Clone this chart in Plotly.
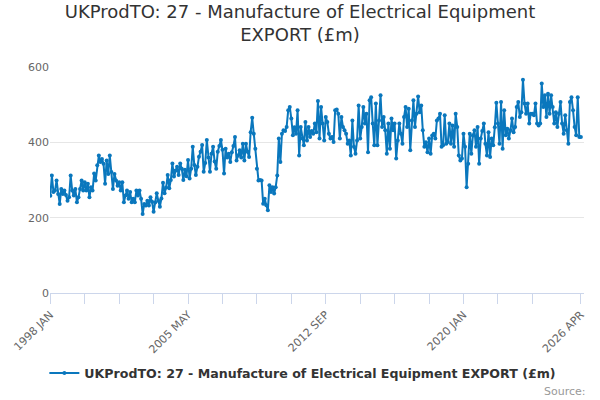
import plotly.graph_objects as go

# monthly export values (£m), 1998 JAN .. 2026 APR
y1998 = [258, 312, 268, 272, 299, 263, 236, 276, 263, 272, 260, 245]
y1999 = [254, 312, 272, 259, 276, 241, 254, 276, 299, 272, 294, 272]
y2000 = [290, 254, 281, 272, 317, 299, 339, 365, 348, 356, 343, 290]
y2001 = [352, 316, 365, 321, 276, 316, 299, 285, 294, 272, 294, 241]
y2002 = [259, 272, 250, 268, 241, 250, 241, 272, 259, 272, 250, 210]
y2003 = [236, 232, 245, 232, 254, 242, 216, 240, 265, 245, 229, 251]
y2004 = [293, 265, 280, 313, 278, 300, 344, 309, 325, 335, 313, 344]
y2005 = [330, 300, 327, 310, 353, 304, 330, 388, 340, 313, 335, 362]
y2006 = [375, 393, 322, 345, 406, 360, 322, 370, 388, 349, 330, 375]
y2007 = [390, 406, 380, 317, 383, 360, 370, 348, 374, 390, 414, 352]
y2008 = [365, 379, 360, 396, 352, 396, 375, 361, 427, 465, 423, 383]
y2009 = [330, 299, 300, 299, 237, 250, 233, 220, 286, 268, 281, 264]
y2010 = [281, 312, 410, 348, 423, 432, 430, 441, 485, 494, 463, 419]
y2011 = [440, 423, 485, 365, 441, 410, 392, 454, 405, 441, 414, 430]
y2012 = [423, 450, 427, 510, 410, 494, 450, 405, 467, 454, 423, 410]
y2013 = [414, 401, 485, 487, 476, 410, 467, 441, 432, 423, 396, 405]
y2014 = [365, 458, 388, 370, 405, 498, 410, 441, 494, 450, 476, 374]
y2015 = [512, 520, 450, 392, 503, 392, 458, 525, 441, 467, 432, 370]
y2016 = [450, 383, 463, 432, 450, 357, 405, 450, 423, 396, 467, 494]
y2017 = [441, 489, 379, 458, 512, 441, 476, 522, 480, 498, 432, 388]
y2018 = [400, 374, 410, 370, 418, 423, 410, 458, 463, 476, 388, 392]
y2019 = [472, 396, 401, 450, 396, 445, 388, 476, 441, 365, 352, 357]
y2020 = [423, 388, 281, 343, 423, 370, 418, 432, 388, 441, 343, 410]
y2021 = [430, 450, 396, 365, 427, 361, 410, 392, 440, 505, 450, 396]
y2022 = [507, 383, 485, 419, 436, 410, 432, 463, 427, 441, 494, 507]
y2023 = [467, 480, 566, 503, 476, 503, 450, 476, 476, 472, 503, 450]
y2024 = [445, 450, 556, 494, 525, 467, 529, 476, 525, 494, 450, 480]
y2025 = [441, 476, 507, 450, 423, 472, 432, 396, 507, 520, 485, 441]
y2026 = [419, 520, 414, 414]

years = list(range(1998, 2027))
month_names = ["JAN", "FEB", "MAR", "APR", "MAY", "JUN",
               "JUL", "AUG", "SEP", "OCT", "NOV", "DEC"]
tick_labels = ["1998 JAN", "2005 MAY", "2012 SEP", "2020 JAN", "2026 APR"]

values = (y1998 + y1999 + y2000 + y2001 + y2002 + y2003 + y2004 + y2005
          + y2006 + y2007 + y2008 + y2009 + y2010 + y2011 + y2012 + y2013
          + y2014 + y2015 + y2016 + y2017 + y2018 + y2019 + y2020 + y2021
          + y2022 + y2023 + y2024 + y2025 + y2026)
periods = [f"{y} {m}" for y in years for m in month_names][:len(values)]

# tick marks every 22 months, labels only on some of them
tickvals = periods[0:len(periods) - 22:22] + [periods[-1]]
ticktext = [p if p in tick_labels else "" for p in tickvals]

blue = "#0a77bd"
fig = go.Figure()
fig.add_trace(go.Scatter(
    x=periods, y=values, mode="lines+markers",
    name="UKProdTO: 27 - Manufacture of Electrical Equipment EXPORT (£m)",
    line=dict(color=blue, width=2),
    marker=dict(color=blue, size=4),
))

fig.update_layout(
    width=600, height=400, autosize=False,
    margin=dict(l=46, r=16, t=67, b=107),
    paper_bgcolor="white", plot_bgcolor="white",
    font=dict(family="DejaVu Sans", color="#666666", size=11),
    title=dict(text="UKProdTO: 27 - Manufacture of Electrical Equipment<br>EXPORT (£m)",
               x=0.5, xanchor="center", yref="container", y=0.955, yanchor="top",
               font=dict(size=18, color="#333333")),
    showlegend=True,
    legend=dict(orientation="h", x=0.4735, xanchor="center", y=-0.355, yanchor="middle",
                font=dict(size=12.6, color="#333333", weight="bold")),
    xaxis=dict(type="category", range=[-0.2, 341],
               tickmode="array", tickvals=tickvals, ticktext=ticktext,
               tickangle=-45, ticks="outside", ticklen=10, tickcolor="#ccd6eb",
               showline=True, linecolor="#ccd6eb", linewidth=1,
               showgrid=False, zeroline=False),
    yaxis=dict(range=[0, 600], tickvals=[0, 200, 400, 600],
               showgrid=True, gridcolor="#e6e6e6", zeroline=False,
               showline=False, ticks=""),
    annotations=[dict(text="Source:", xref="paper", yref="paper",
                      x=1.007, y=-0.434, xanchor="right", yanchor="middle",
                      showarrow=False, font=dict(size=11, color="#999999"))],
)

# drop the page's default body margin so the figure sits at the window corner
fig.write_html("out.html", config={"displayModeBar": False},
               post_script="document.body.style.margin='0';")
